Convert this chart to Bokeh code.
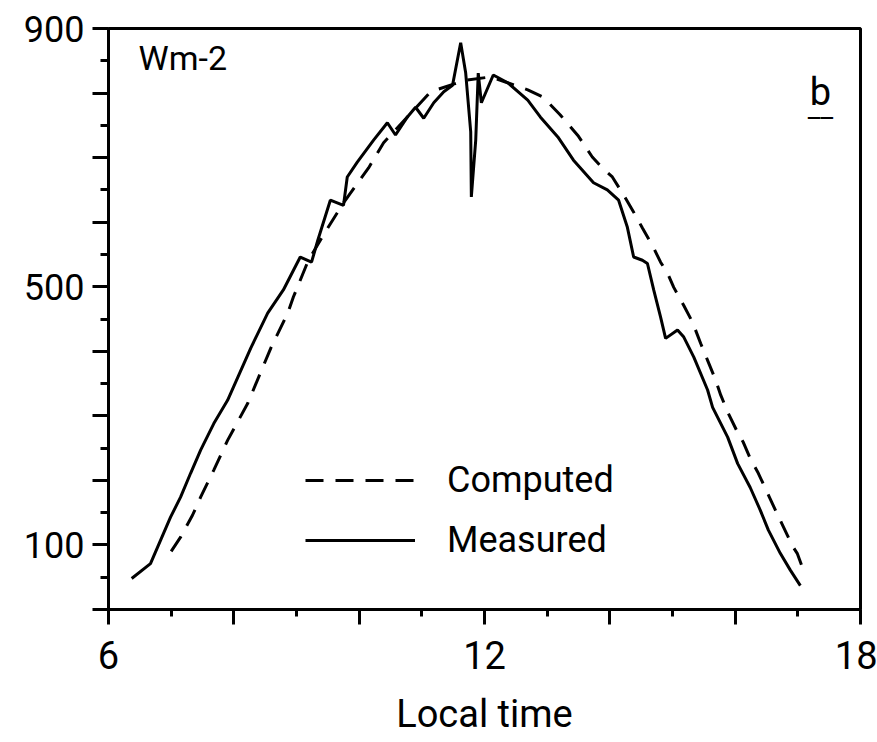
from bokeh.plotting import figure
from bokeh.models import FixedTicker, Legend, LegendItem, Label
from bokeh.embed import file_html
from bokeh.resources import INLINE

# ---- data ----
measured_hours = [6.37, 6.67, 6.83, 6.99, 7.15, 7.31, 7.47, 7.68, 7.90, 8.27, 8.54, 8.79,
                  9.06, 9.24, 9.34, 9.54, 9.75, 9.81, 9.97, 10.23, 10.45, 10.58, 10.77, 10.90,
                  11.03, 11.19, 11.35, 11.49, 11.62, 11.70, 11.78, 11.79, 11.86, 11.90, 11.95,
                  12.14, 12.37, 12.69, 12.89, 13.17, 13.42, 13.74, 13.96, 14.14, 14.28, 14.38,
                  14.52, 14.60, 14.70, 14.81, 14.89, 15.08, 15.18, 15.34, 15.56, 15.64, 15.88,
                  16.04, 16.24, 16.40, 16.53, 16.72, 16.88, 17.04]
measured_wm2 = [48, 71, 107, 143, 174, 211, 247, 288, 324, 405, 459, 495,
                546, 538, 572, 634, 626, 670, 693, 727, 754, 735, 763, 778,
                761, 785, 802, 812, 878, 831, 740, 639, 727, 831, 785,
                828, 816, 789, 763, 732, 696, 661, 650, 634, 592, 546,
                541, 536, 495, 453, 420, 433, 422, 391, 340, 313, 267,
                226, 189, 154, 123, 87, 61, 37]

computed_hours = [7.00, 7.15, 7.34, 7.47, 7.68, 7.90, 8.22, 8.59, 8.86, 8.95, 9.19, 9.46,
                  9.75, 10.15, 10.39, 11.14, 11.70, 12.10, 12.69, 12.93, 13.21, 13.50, 13.72,
                  13.88, 14.04, 14.22, 14.36, 14.52, 14.70, 14.81, 14.92, 15.02, 15.18, 15.32,
                  15.45, 15.56, 15.69, 15.77, 15.89, 16.04, 16.13, 16.24, 16.37, 16.48, 16.68,
                  16.76, 16.91, 16.99, 17.12]
computed_wm2 = [90, 112, 146, 174, 216, 262, 319, 405, 459, 484, 541, 585,
                630, 684, 723, 802, 820, 825, 805, 794, 766, 733, 701,
                684, 670, 642, 619, 591, 560, 538, 521, 499, 471, 445,
                412, 386, 355, 332, 304, 274, 259, 234, 211, 188, 146,
                130, 99, 87, 53]

x_major_ticks = [6, 8, 10, 12, 14, 16, 18]
x_minor_ticks = [7, 9, 11, 13, 15, 17]
x_tick_labels = {6: "6", 12: "12", 18: "18"}
y_major_ticks = [0, 100, 200, 300, 400, 500, 600, 700, 800, 900]
y_minor_ticks = [50, 150, 250, 350, 450, 550, 650, 750, 850]
y_tick_labels = {100: "100", 500: "500", 900: "900"}

FONT = "Roboto"

p = figure(width=877, height=742, x_range=(6, 18), y_range=(0, 900),
           output_backend="svg", toolbar_location=None,
           min_border_left=108, min_border_right=17,
           min_border_top=28, min_border_bottom=133)
p.grid.visible = False
p.background_fill_color = "white"
p.border_fill_color = "white"
p.outline_line_color = "black"
p.outline_line_width = 3
p.outline_line_alpha = 1.0

# x axis
xa = p.xaxis[0]
xa.ticker = FixedTicker(ticks=x_major_ticks, minor_ticks=x_minor_ticks)
xa.major_label_overrides = {t: x_tick_labels.get(t, "") for t in x_major_ticks}
xa.axis_label = "Local time"
xa.axis_label_text_font = FONT
xa.axis_label_text_font_size = "38px"
xa.axis_label_text_font_style = "normal"
xa.axis_label_text_color = "black"
xa.axis_label_standoff = 20
xa.major_label_text_font = FONT
xa.major_label_text_font_size = "38px"
xa.major_label_text_color = "black"
xa.major_label_standoff = 16

# y axis
ya = p.yaxis[0]
ya.ticker = FixedTicker(ticks=y_major_ticks, minor_ticks=y_minor_ticks)
ya.major_label_overrides = {t: y_tick_labels.get(t, "") for t in y_major_ticks}
ya.major_label_text_font = FONT
ya.major_label_text_font_size = "36px"
ya.major_label_text_color = "black"
ya.major_label_standoff = 8
ya.major_label_orientation = "horizontal"

for ax in (xa, ya):
    ax.axis_line_color = "black"
    ax.axis_line_width = 3
    ax.major_tick_line_color = "black"
    ax.major_tick_line_width = 3
    ax.minor_tick_line_color = "black"
    ax.minor_tick_line_width = 3
    ax.major_tick_in = 0
    ax.minor_tick_in = 0
xa.major_tick_out = 15
xa.minor_tick_out = 7
ya.major_tick_out = 16
ya.minor_tick_out = 8

# curves
r_comp = p.line(computed_hours, computed_wm2, line_color="black", line_width=3,
                line_dash="18 12")
r_meas = p.line(measured_hours, measured_wm2, line_color="black", line_width=3)

legend = Legend(items=[LegendItem(label="Computed", renderers=[r_comp]),
                       LegendItem(label="Measured", renderers=[r_meas])],
                location=(197, 46), orientation="vertical")
legend.label_text_font = FONT
legend.label_text_font_size = "36px"
legend.label_text_color = "black"
legend.glyph_width = 110
legend.glyph_height = 46
legend.label_height = 46
legend.label_standoff = 32
legend.spacing = 14
legend.padding = 0
legend.margin = 0
legend.border_line_alpha = 0
legend.background_fill_alpha = 0
p.add_layout(legend)

# in-plot annotations
p.add_layout(Label(x=6.48, y=854, text="Wm-2", text_font=FONT, text_font_size="34px",
                   text_baseline="middle", text_align="left", text_color="black"))
p.add_layout(Label(x=17.36, y=802, text="b", text_font=FONT, text_font_size="38px",
                   text_baseline="middle", text_align="center", text_color="black"))
p.add_layout(Label(x=17.36, y=778, text="__", text_font=FONT, text_font_size="28px",
                   text_baseline="alphabetic", text_align="center", text_color="black"))

open("out.html", "w").write(file_html(p, INLINE))
